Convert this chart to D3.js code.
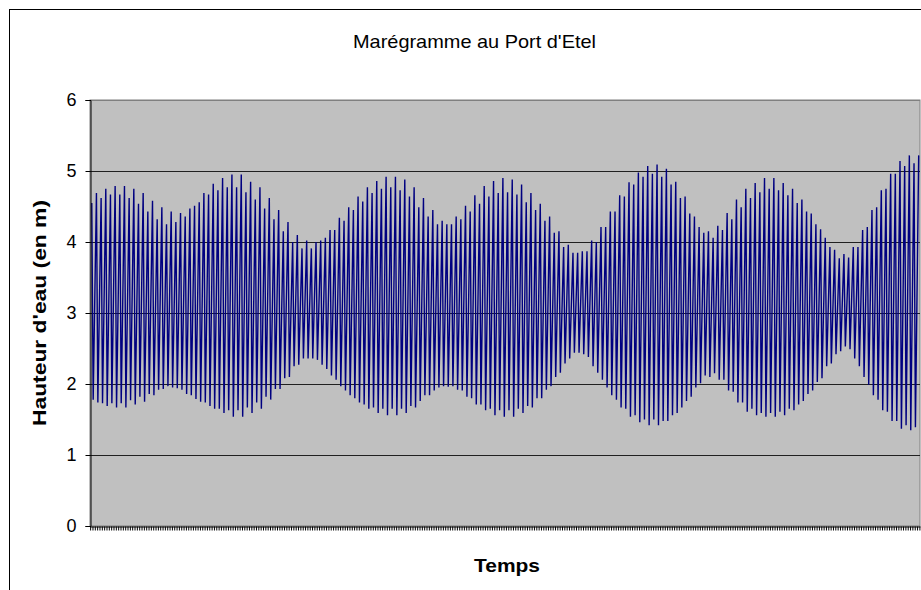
<!DOCTYPE html>
<html>
<head>
<meta charset="utf-8">
<script src="https://cdn.jsdelivr.net/npm/d3@7"></script>
<style>
  html, body { margin: 0; padding: 0; background: #fff; }
  svg { display: block; font-family: "Liberation Sans", Arial, sans-serif; }
</style>
</head>
<body>
<svg id="chart" width="921" height="590"></svg>
<script>
// ---- Data ----
const chartTitle = "Marégramme au Port d'Etel";
const xTitle = "Temps";
const yTitle = "Hauteur d'eau (en m)";
const yTicks = [0, 1, 2, 3, 4, 5, 6];

// Successive high waters (pleines mers), in metres
const highs = [
  4.55, 4.69, 4.62, 4.75, 4.67, 4.79, 4.67, 4.79, 4.62, 4.75, 4.54, 4.69, 4.43, 4.58, 4.32, 4.49, 4.25, 4.43, 4.28, 4.41, 4.36, 4.47, 4.51, 4.56, 4.69, 4.67, 4.82, 4.73, 4.90, 4.77,
  4.95, 4.77, 4.95, 4.70, 4.85, 4.60, 4.77, 4.47, 4.62, 4.32, 4.45, 4.15, 4.28, 4.00, 4.10, 3.91, 4.02, 3.91, 4.00, 4.02, 4.06, 4.17, 4.17, 4.34, 4.30, 4.49, 4.45, 4.64, 4.57,
  4.77, 4.69, 4.86, 4.75, 4.92, 4.77, 4.92, 4.73, 4.88, 4.64, 4.77, 4.49, 4.62, 4.36, 4.45, 4.25, 4.30, 4.25, 4.25, 4.36, 4.32, 4.51, 4.43, 4.66, 4.54, 4.79, 4.64, 4.86, 4.69, 4.90,
  4.70, 4.88, 4.67, 4.81, 4.56, 4.69, 4.45, 4.54, 4.30, 4.36, 4.13, 4.15, 3.93, 3.96, 3.85, 3.85, 3.87, 3.87, 4.02, 4.00, 4.21, 4.21, 4.43, 4.43, 4.66, 4.64, 4.84, 4.81, 4.98,
  4.92, 5.07, 4.96, 5.09, 4.92, 5.03, 4.81, 4.85, 4.62, 4.64, 4.40, 4.36, 4.21, 4.13, 4.15, 4.06, 4.23, 4.17, 4.41, 4.32, 4.60, 4.49, 4.75, 4.62, 4.83, 4.70, 4.90, 4.75, 4.90, 4.73,
  4.83, 4.66, 4.75, 4.55, 4.60, 4.43, 4.40, 4.25, 4.18, 4.06, 3.93, 3.89, 3.77, 3.83, 3.78, 3.93, 3.93, 4.17, 4.21, 4.45, 4.49, 4.73, 4.75, 4.96, 4.96, 5.14, 5.07, 5.22, 5.11, 5.22
];

// Successive low waters (basses mers), each following the high of same index
const lows = [
  1.78, 1.74, 1.73, 1.69, 1.73, 1.67, 1.73, 1.67, 1.77, 1.71, 1.82, 1.75, 1.86, 1.84, 1.92, 1.93, 1.97, 1.95, 1.94, 1.92, 1.86, 1.84, 1.79, 1.75, 1.74, 1.69, 1.65, 1.65, 1.59,
  1.63, 1.54, 1.63, 1.54, 1.67, 1.59, 1.74, 1.65, 1.82, 1.78, 1.93, 1.93, 2.08, 2.10, 2.25, 2.27, 2.36, 2.36, 2.36, 2.34, 2.27, 2.21, 2.12, 2.06, 1.97, 1.91, 1.84, 1.80, 1.74, 1.71,
  1.65, 1.67, 1.59, 1.65, 1.56, 1.65, 1.56, 1.65, 1.59, 1.69, 1.67, 1.76, 1.84, 1.84, 1.91, 1.95, 1.97, 1.96, 1.97, 1.92, 1.91, 1.82, 1.80, 1.71, 1.71, 1.63, 1.65, 1.56, 1.63,
  1.54, 1.63, 1.54, 1.65, 1.59, 1.69, 1.67, 1.80, 1.80, 1.92, 1.97, 2.10, 2.16, 2.29, 2.36, 2.44, 2.44, 2.42, 2.38, 2.25, 2.16, 2.06, 1.95, 1.84, 1.78, 1.67, 1.65, 1.54, 1.56, 1.46,
  1.50, 1.42, 1.50, 1.42, 1.48, 1.48, 1.56, 1.59, 1.67, 1.76, 1.82, 1.95, 2.01, 2.12, 2.10, 2.15, 2.06, 2.06, 1.91, 1.89, 1.74, 1.74, 1.61, 1.65, 1.56, 1.59, 1.54, 1.59, 1.54,
  1.61, 1.56, 1.65, 1.63, 1.71, 1.76, 1.86, 1.91, 2.03, 2.08, 2.25, 2.29, 2.42, 2.46, 2.53, 2.49, 2.36, 2.25, 2.10, 1.99, 1.84, 1.78, 1.63, 1.61, 1.48, 1.48, 1.37, 1.42, 1.35, 1.39
];

// ---- Build series: time measured in tide cycles ----
const lowPhase = 0.3; // low water drawn a fraction of a cycle after the high
const points = [];
highs.forEach((h, i) => {
  points.push({ t: i, v: h });
  if (i < lows.length) points.push({ t: i + lowPhase, v: lows[i] });
});

// ---- Layout ----
const svg = d3.select("#chart");
const plot = { left: 90, right: 920, top: 100, bottom: 526 };

const x = d3.scaleLinear()
  .domain([-0.38, highs.length - 1 + 0.28])
  .range([plot.left, plot.right]);
const y = d3.scaleLinear().domain([0, 6]).range([plot.bottom, plot.top]);

// Outer chart border
svg.append("rect")
  .attr("x", 9.5).attr("y", 9.5)
  .attr("width", 930).attr("height", 600)
  .attr("fill", "#fff").attr("stroke", "#000").attr("stroke-width", 1);

// Plot background
svg.append("rect")
  .attr("x", plot.left).attr("y", plot.top)
  .attr("width", plot.right - plot.left).attr("height", plot.bottom - plot.top)
  .attr("fill", "#c0c0c0").attr("stroke", "#808080").attr("stroke-width", 1);

// Gridlines
svg.append("g")
  .selectAll("line")
  .data(yTicks.filter(d => d > 0))
  .join("line")
  .attr("x1", plot.left).attr("x2", plot.right)
  .attr("y1", d => Math.round(y(d)) + 0.5).attr("y2", d => Math.round(y(d)) + 0.5)
  .attr("stroke", d => d === 6 ? "#808080" : "#202020")
  .attr("stroke-width", 1);

// Line
const line = d3.line().x(d => x(d.t)).y(d => y(d.v));
svg.append("path")
  .datum(points)
  .attr("d", line)
  .attr("fill", "none")
  .attr("stroke", "#000080")
  .attr("stroke-width", 1.4)
  .attr("stroke-linejoin", "miter");

// Y axis
const yAxis = d3.axisLeft(y).tickValues(yTicks).tickSize(5).tickPadding(9).tickFormat(d3.format("d"));
const gy = svg.append("g").attr("transform", `translate(${plot.left + 0.5},0)`).call(yAxis);
gy.select(".domain").attr("stroke", "#000");
gy.selectAll(".tick line").attr("stroke", "#000");
gy.selectAll("text").attr("font-size", 18).attr("fill", "#000")
  .attr("font-family", "Liberation Sans, Arial, sans-serif");

// X axis (dense category ticks, no labels)
const xTickVals = d3.range(-0.35, highs.length - 1 + 0.28, 0.5);
const xAxis = d3.axisBottom(x).tickValues(xTickVals).tickSize(4).tickFormat("").tickSizeOuter(0);
const gx = svg.append("g").attr("transform", `translate(0,${plot.bottom + 0.5})`).call(xAxis);
gx.select(".domain").attr("stroke", "#000");
gx.selectAll(".tick line").attr("stroke", "#000");

// Titles
svg.append("text")
  .attr("x", 474.5).attr("y", 48)
  .attr("text-anchor", "middle")
  .attr("font-size", 19)
  .attr("textLength", 243).attr("lengthAdjust", "spacingAndGlyphs")
  .text(chartTitle);

svg.append("text")
  .attr("x", 507).attr("y", 572)
  .attr("text-anchor", "middle")
  .attr("font-size", 18).attr("font-weight", "bold")
  .attr("textLength", 66).attr("lengthAdjust", "spacingAndGlyphs")
  .text(xTitle);

svg.append("text")
  .attr("transform", `translate(46,${(plot.top + plot.bottom) / 2}) rotate(-90)`)
  .attr("text-anchor", "middle")
  .attr("font-size", 18).attr("font-weight", "bold")
  .attr("textLength", 226).attr("lengthAdjust", "spacingAndGlyphs")
  .text(yTitle);
</script>
</body>
</html>
